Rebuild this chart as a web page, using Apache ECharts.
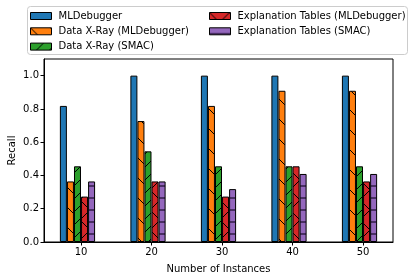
<!DOCTYPE html>
<html>
<head>
<meta charset="utf-8">
<script src="https://cdn.jsdelivr.net/npm/echarts@6/dist/echarts.min.js"></script>
<style>
html,body{margin:0;padding:0;background:#fff;}
#chart{width:417px;height:280px;}
</style>
</head>
<body>
<div id="chart"></div>
<script>
// ---- data ----
var categories = [10, 20, 30, 40, 50];
var seriesNames = ['MLDebugger', 'Data X-Ray (MLDebugger)', 'Data X-Ray (SMAC)', 'Explanation Tables (MLDebugger)', 'Explanation Tables (SMAC)'];
var mlDebugger = [0.818, 1.0, 1.0, 1.0, 1.0];
var dataXRayML = [0.364, 0.727, 0.818, 0.909, 0.909];
var dataXRaySMAC = [0.455, 0.545, 0.455, 0.455, 0.455];
var explTablesML = [0.273, 0.364, 0.273, 0.455, 0.364];
var explTablesSMAC = [0.364, 0.364, 0.318, 0.409, 0.409];
var yTicks = [0, 0.2, 0.4, 0.6, 0.8, 1.0];

var allValues = [mlDebugger, dataXRayML, dataXRaySMAC, explTablesML, explTablesSMAC];
var colors = ['#1f77b4', '#ff7f0e', '#2ca02c', '#d62728', '#9467bd'];
var hatches = [null, 'back', 'fwd', 'cross', 'horiz'];

function makePattern(bg, kind) {
  var p = kind === 'horiz' ? 12 : (kind === 'fwd' ? 13 : 20);
  var c = document.createElement('canvas');
  c.width = p; c.height = p;
  var g = c.getContext('2d');
  g.fillStyle = bg; g.fillRect(0, 0, p, p);
  g.strokeStyle = kind === 'horiz' ? 'rgba(40,20,60,0.85)' : '#000';
  g.lineWidth = kind === 'horiz' ? 1.6 : 1;
  g.beginPath();
  if (kind === 'horiz') {
    g.moveTo(0, p / 2); g.lineTo(p, p / 2);
  }
  if (kind === 'back' || kind === 'cross') {
    for (var k = -1; k <= 1; k++) { g.moveTo(k * p, 0); g.lineTo(k * p + p, p); }
  }
  if (kind === 'fwd' || kind === 'cross') {
    for (var k = -1; k <= 1; k++) { g.moveTo(k * p, p); g.lineTo(k * p + p, 0); }
  }
  g.stroke();
  return { image: c, repeat: 'repeat' };
}

var series = allValues.map(function (vals, i) {
  return {
    name: seriesNames[i],
    type: 'bar',
    barWidth: 7,
    barGap: '-100%',
    itemStyle: {
      color: hatches[i] ? makePattern(colors[i], hatches[i]) : colors[i],
      borderColor: '#000',
      borderWidth: 1
    },
    data: categories.map(function (c, j) { return [c + (i - 2.5), vals[j]]; })
  };
});

var font = 'DejaVu Sans';
var legendCommon = {
  orient: 'vertical', top: 6, z: 20, padding: 5,
  itemWidth: 21, itemHeight: 7, itemGap: 5.3, icon: 'rect',
  itemStyle: { borderColor: '#000', borderWidth: 1 },
  textStyle: { fontSize: 10, color: '#000', fontFamily: font, padding: [0, 0, 0, 2] }
};
var chart = echarts.init(document.getElementById('chart'), null, { renderer: 'canvas' });
chart.setOption({
  animation: false,
  backgroundColor: '#fff',
  textStyle: { fontFamily: font },
  grid: { left: 44, right: 24, top: 59, bottom: 38, containLabel: false, outerBoundsMode: 'none',
    show: true, borderColor: '#000', borderWidth: 1, backgroundColor: 'transparent' },
  xAxis: {
    type: 'value', min: 4.75, max: 54.25,
    name: 'Number of Instances', nameLocation: 'middle', nameGap: 22, nameMoveOverlap: false,
    nameTextStyle: { fontSize: 10, color: '#000', fontFamily: font },
    axisLine: { lineStyle: { color: '#000' } },
    axisTick: { length: 3.5, lineStyle: { color: '#000' }, customValues: categories },
    axisLabel: { fontSize: 10, color: '#000', margin: 5, customValues: categories, fontFamily: font },
    splitLine: { show: false }
  },
  yAxis: {
    type: 'value', min: 0, max: 1.1, interval: 0.2,
    name: 'Recall', nameLocation: 'middle', nameGap: 27, nameMoveOverlap: false,
    nameTextStyle: { fontSize: 10, color: '#000', fontFamily: font },
    axisLine: { show: true, lineStyle: { color: '#000' } },
    axisTick: { show: true, length: 3.5, lineStyle: { color: '#000' }, customValues: yTicks },
    axisLabel: { fontSize: 10, color: '#000', margin: 5, customValues: yTicks, fontFamily: font,
      formatter: function (v) { return v.toFixed(1); } },
    splitLine: { show: false }
  },
  graphic: [{
    type: 'rect', left: 27, top: 6, z: 10,
    shape: { width: 380, height: 48, r: 3 },
    style: { fill: 'rgba(255,255,255,0.85)', stroke: '#cccccc', lineWidth: 1 }
  }],
  legend: [
    Object.assign({}, legendCommon, { data: seriesNames.slice(0, 3), left: 25 }),
    Object.assign({}, legendCommon, { data: seriesNames.slice(3), left: 204 })
  ],
  series: series
});
</script>
</body>
</html>
